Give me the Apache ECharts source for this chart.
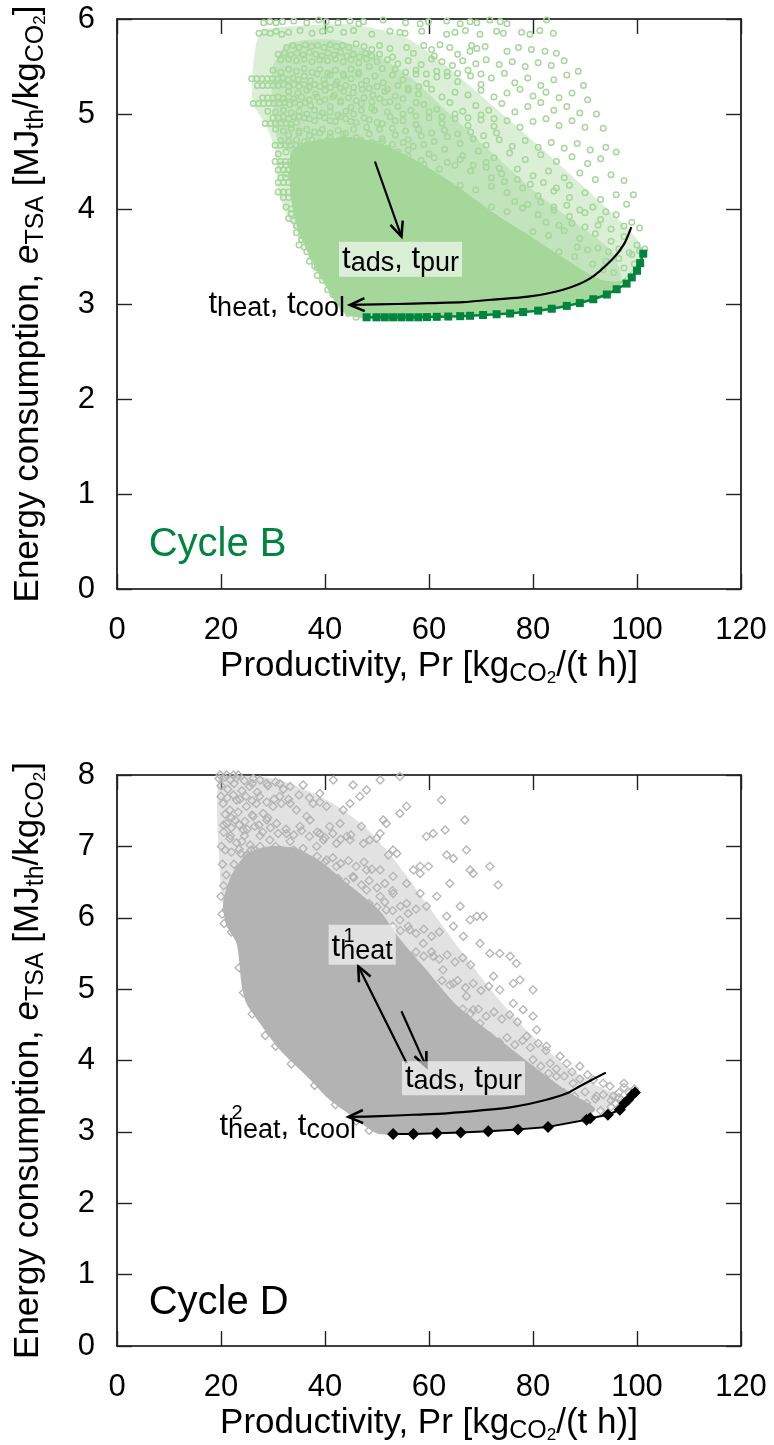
<!DOCTYPE html>
<html><head><meta charset="utf-8">
<script src="https://cdn.jsdelivr.net/npm/echarts/dist/echarts.min.js"></script>
<style>html,body{margin:0;padding:0;background:#fff}#c{width:774px;height:1445px}</style>
</head><body><div id="c"></div>
<script>
// ---------- DATA ----------
const xTicks = [0, 20, 40, 60, 80, 100, 120];
const yTicksB = [0, 1, 2, 3, 4, 5, 6];
const yTicksD = [0, 1, 2, 3, 4, 5, 6, 7, 8];

// Cycle B: Pareto front (dark green squares)
const frontBx = [48.0,49.9,51.5,53.1,54.7,56.3,57.95,59.6,61.5,63.7,66.0,67.9,70.4,73.0,75.6,78.1,81.0,83.6,86.5,89.0,91.6,94.2,96.1,98.0,99.0,100.0,100.6,101.2];
const frontBy = [2.86,2.86,2.86,2.86,2.86,2.86,2.86,2.862,2.865,2.868,2.872,2.876,2.884,2.892,2.90,2.915,2.93,2.95,2.98,3.01,3.05,3.10,3.155,3.215,3.28,3.35,3.43,3.53];

// Cycle B: outline of the region where the cloud points overlap completely
const coreB = [[33.5,4.60],[38.0,4.72],[45.0,4.76],[52.0,4.66],[58.0,4.50],[65.0,4.26],[72.0,3.98],[80.0,3.70],[87.0,3.45],[93.0,3.26],[97.0,3.25],[100.5,3.45],[101.0,3.52],[99.3,3.36],[96.4,3.18],[91.6,3.05],[86.5,2.97],[80.7,2.93],[73.3,2.89],[66.0,2.87],[48.0,2.85],[44.5,2.88],[42.9,2.95],[40.0,3.20],[37.5,3.45],[35.0,3.75],[33.5,4.10]];
// Cycle B: outlines of the partly covered zones (outer, inner)
const haloB1 = [[26.0,5.37],[27.5,5.85],[33.0,5.92],[45.0,5.94],[55.0,5.82],[63.0,5.52],[72.0,5.10],[82.0,4.62],[90.0,4.22],[97.0,3.86],[101.0,3.60],[100.5,3.40],[97.0,3.25],[93.0,3.26],[87.0,3.45],[80.0,3.70],[72.0,3.98],[65.0,4.26],[58.0,4.50],[52.0,4.66],[45.0,4.76],[38.0,4.72],[33.5,4.60],[33.5,4.10],[35.0,3.75],[33.0,3.90],[31.0,4.20],[30.5,4.60],[28.5,4.90],[26.2,5.10]];
const haloB2 = [[30.0,5.50],[33.0,5.74],[42.0,5.78],[50.0,5.62],[57.0,5.36],[64.0,5.00],[72.0,4.60],[80.0,4.20],[88.0,3.86],[95.0,3.56],[97.0,3.25],[93.0,3.26],[87.0,3.45],[80.0,3.70],[72.0,3.98],[65.0,4.26],[58.0,4.50],[52.0,4.66],[45.0,4.76],[38.0,4.72],[33.5,4.60],[31.0,4.70],[30.0,5.10]];

// Cycle B: individual points of the cloud
const cloudB = [
[28.2,5.96],[29.4,5.97],[30.6,5.96],[31.8,5.97],[34.0,5.98],[36.5,5.96],[38.8,5.99],[40.2,5.97],[42.5,5.96],[44.8,5.98],[46.5,5.95],[47.4,5.97],[51.2,5.99],[55.5,5.96],[58.3,5.95],[59.9,5.97],[63.4,5.98],[66.0,5.95],[67.9,5.97],[69.2,5.96],[71.7,5.99],[73.7,5.97],[75.0,5.95],[82.6,5.99],
[27.3,5.85],[28.4,5.86],[29.5,5.85],[30.6,5.87],[31.7,5.84],[33.0,5.86],[35.2,5.88],[37.5,5.85],[39.5,5.87],[41.0,5.89],[43.6,5.86],[45.5,5.88],[49.0,5.84],[52.5,5.87],[54.4,5.86],[55.4,5.85],[58.6,5.87],[63.4,5.84],[65.0,5.86],[67.0,5.88],[69.8,5.84],[73.0,5.87],[74.3,5.85],[77.8,5.86],[79.4,5.84],[81.3,5.88],[83.9,5.85],
[32.6,5.70],[33.8,5.72],[35.0,5.70],[36.2,5.73],[37.4,5.71],[38.6,5.72],[39.8,5.70],[41.0,5.73],[42.2,5.71],[43.4,5.72],[44.6,5.70],[46.0,5.74],[47.5,5.71],[49.0,5.68],[50.5,5.72],[52.5,5.69],[55.7,5.70],[59.0,5.72],[60.5,5.68],[62.1,5.73],[64.0,5.70],[67.9,5.66],[68.2,5.72],[69.2,5.69],[70.8,5.71],[75.0,5.66],[77.2,5.70],[79.7,5.68],[82.3,5.66],[84.5,5.64],
[31.0,5.63],[32.2,5.64],[33.4,5.62],[34.6,5.64],[35.8,5.62],[37.0,5.65],[38.2,5.63],[39.4,5.61],[40.6,5.64],[41.8,5.62],[43.0,5.65],[44.2,5.61],[45.4,5.63],[46.6,5.60],[47.8,5.64],[49.0,5.61],[50.5,5.63],[53.0,5.60],[57.0,5.64],[61.0,5.61],[65.5,5.63],
[31.5,5.57],[33.0,5.58],[34.5,5.56],[36.0,5.58],[37.5,5.55],[39.0,5.57],[40.5,5.56],[42.0,5.58],[43.5,5.55],[45.0,5.57],[46.5,5.54],[48.0,5.58],[50.0,5.55],[52.0,5.57],[54.0,5.53],[56.0,5.56],[58.5,5.52],[60.5,5.58],[62.5,5.55],[64.5,5.51],[66.5,5.56],[69.0,5.53],[71.0,5.57],[73.5,5.52],[76.0,5.55],[78.5,5.50],[81.0,5.54],[83.5,5.51],[86.0,5.56],[88.7,5.45],
[30.0,5.46],[31.5,5.44],[33.0,5.47],[34.5,5.45],[36.0,5.48],[37.5,5.44],[39.0,5.47],[40.5,5.43],[42.0,5.46],[43.5,5.42],[45.0,5.47],[46.5,5.44],
[48.5,5.50],[51.0,5.48],[53.5,5.47],[55.5,5.44],[57.5,5.46],[59.5,5.42],[61.5,5.45],[63.5,5.40],[65.5,5.43],[67.5,5.46],[70.0,5.42],
[25.9,5.37],[26.9,5.37],[27.9,5.37],[28.9,5.37],[29.9,5.37],[30.9,5.37],[31.9,5.38],[32.9,5.36],[33.9,5.38],[34.9,5.36],[36.0,5.40],[37.2,5.35],[38.5,5.42],[39.8,5.36],[41.0,5.41],[42.3,5.34],[43.6,5.40],[45.0,5.37],[46.4,5.42],[48.0,5.35],[49.6,5.40],[51.2,5.33],[53.0,5.41],[55.0,5.36],[57.5,5.42],[59.5,5.32],[61.5,5.39],[63.5,5.44],[65.5,5.34],[68.0,5.40],[70.0,5.31],[72.0,5.38],[74.5,5.43],[76.5,5.33],[79.0,5.38],[81.5,5.30],[84.0,5.36],[86.5,5.41],[89.7,5.30],
[27.0,5.30],[28.0,5.30],[29.0,5.30],[30.0,5.30],[31.0,5.30],[32.0,5.31],[33.0,5.29],[34.0,5.31],[35.0,5.29],[36.0,5.31],[37.0,5.28],[38.0,5.31],[39.0,5.29],[40.0,5.32],[41.0,5.28],[42.0,5.31],[43.0,5.27],[44.0,5.30],[45.5,5.28],[47.0,5.31],[48.5,5.27],[50.0,5.29],[52.0,5.26],[54.0,5.30],[56.0,5.27],[58.0,5.29],
[33.0,5.24],[34.8,5.22],[36.5,5.25],[38.2,5.21],[40.0,5.25],[41.8,5.20],[43.6,5.24],[45.4,5.22],[47.2,5.26],[49.2,5.20],[51.5,5.24],[53.5,5.19],[56.0,5.25],[58.0,5.21],[60.5,5.26],[62.5,5.18],[65.0,5.23],[67.5,5.20],[70.0,5.25],[72.5,5.18],[75.0,5.22],[77.5,5.26],[80.0,5.19],[82.5,5.23],[85.0,5.17],[87.5,5.22],[90.5,5.15],
[28.0,5.17],[29.0,5.17],[30.0,5.17],[31.0,5.18],[32.0,5.16],[33.0,5.18],[34.0,5.16],[35.5,5.18],[37.0,5.15],[38.5,5.18],[40.0,5.15],[41.5,5.18],[43.0,5.14],[44.5,5.17],[46.0,5.14],[47.5,5.17],[49.0,5.13],[50.5,5.16],[52.5,5.13],[55.0,5.16],[57.5,5.12],
[26.2,5.11],[27.2,5.11],[28.2,5.11],[29.2,5.11],[30.2,5.11],[31.2,5.11],[32.2,5.12],[33.2,5.10],[34.2,5.12],[35.2,5.10],[36.2,5.12],[37.2,5.09],[39.0,5.13],[41.0,5.08],[43.0,5.12],[45.0,5.07],[47.0,5.11],[49.0,5.06],[51.5,5.12],[54.0,5.08],[56.5,5.04],[59.0,5.10],[61.5,5.05],[64.0,5.12],[66.5,5.03],[69.0,5.09],[71.5,5.04],[74.0,5.11],[76.5,5.02],[79.0,5.08],[81.5,5.12],[84.0,5.04],[86.5,5.08],[89.0,5.01],[92.2,5.00],
[29.0,5.03],[30.5,5.02],[32.0,5.04],[33.5,5.01],[35.0,5.03],[36.5,5.00],[38.0,5.04],[39.5,5.01],[41.0,5.02],[42.5,4.99],[44.0,5.03],[45.5,5.00],[47.0,5.04],
[49.5,5.04],[52.0,5.02],[55.0,5.00],[57.5,4.98],[60.0,5.02],[62.5,4.97],[65.0,5.00],[67.5,4.96],[70.0,4.99],[72.5,4.95],
[30.0,4.96],[31.0,4.96],[32.0,4.97],[33.0,4.95],[34.0,4.97],[36.0,4.96],[38.0,4.93],[40.0,4.96],[42.0,4.92],[44.0,4.95],[46.0,4.91],[48.5,4.94],[51.0,4.90],[53.5,4.93],
[35.0,4.97],[37.0,4.95],[39.0,4.98],[41.0,4.93],[43.0,4.97],[45.0,4.92],[47.5,4.96],[50.0,4.91],[52.5,4.97],[55.0,4.93],[57.5,4.89],[60.0,4.96],[62.5,4.90],[65.0,4.95],[67.5,4.88],[70.0,4.94],[72.5,4.87],[75.0,4.93],[77.5,4.86],[80.0,4.92],[82.5,4.95],[85.0,4.88],[87.5,4.93],[90.0,4.86],[93.5,4.85],
[28.5,4.90],[29.5,4.90],[30.5,4.90],[31.5,4.90],[32.5,4.90],[33.5,4.89],[34.5,4.91],
[48.0,4.86],[50.5,4.84],[53.0,4.85],[55.5,4.82],[58.0,4.84],[60.5,4.80],[63.0,4.83],[65.5,4.79],[68.0,4.81],[70.5,4.77],[73.0,4.80],
[30.5,4.84],[32.0,4.82],[33.5,4.85],[35.0,4.82],[36.5,4.84],[38.0,4.81],[39.5,4.84],[41.0,4.80],[42.5,4.83],[44.0,4.80],[45.5,4.84],
[33.0,4.78],[35.0,4.80],[37.0,4.77],[39.0,4.80],[41.0,4.76],[43.5,4.79],[46.0,4.75],[48.5,4.79],[51.0,4.74],[53.5,4.78],[56.0,4.73],[58.5,4.77],[61.0,4.71],[63.5,4.76],[66.0,4.69],[68.5,4.74],[71.0,4.67],[73.5,4.73],[76.0,4.66],[78.5,4.72],[81.0,4.65],[83.5,4.70],[86.0,4.64],[88.5,4.69],[91.0,4.62],[94.0,4.65],
[31.5,4.72],[33.0,4.71],[34.5,4.73],[36.0,4.71],[37.5,4.73],[39.0,4.71],[40.5,4.72],[42.0,4.70],[43.5,4.72],[45.0,4.70],[47.0,4.72],[49.0,4.70],[51.0,4.71],[53.0,4.68],[55.0,4.70],[57.0,4.66],[59.0,4.68],
[30.4,4.67],[31.4,4.67],[32.4,4.67],[33.4,4.67],[34.4,4.67],[35.4,4.66],[36.6,4.68],[38.0,4.65],[40.0,4.68],[42.0,4.64],[45.0,4.66],[56.0,4.62],[60.0,4.58],[63.0,4.63],[66.5,4.56],[69.5,4.61],[72.5,4.54],[75.5,4.59],[78.5,4.52],[81.5,4.57],[84.5,4.50],[87.5,4.55],[90.5,4.48],[93.0,4.53],[96.0,4.60],
[31.0,4.58],[32.5,4.60],[34.0,4.57],[35.5,4.59],[37.0,4.56],[38.5,4.60],[40.0,4.57],[41.5,4.60],[43.0,4.56],[44.5,4.59],[46.0,4.62],[48.0,4.66],[50.0,4.68],[52.0,4.64],[54.0,4.60],
[56.0,4.55],[58.5,4.51],[61.0,4.54],[63.5,4.49],[66.0,4.52],[68.5,4.46],[71.0,4.49],[73.5,4.43],
[30.4,4.50],[31.4,4.50],[32.4,4.50],[33.4,4.50],[34.4,4.50],[31.0,4.41],[32.0,4.41],[33.0,4.41],[34.0,4.41],[59.0,4.47],[62.0,4.42],[65.0,4.46],[68.0,4.40],[71.0,4.44],[74.0,4.37],[77.0,4.42],[80.0,4.35],[83.0,4.40],[86.0,4.33],[89.0,4.38],[92.0,4.31],[95.0,4.36],[97.5,4.30],
[31.5,4.46],[32.5,4.46],[33.5,4.46],[31.5,4.33],[32.5,4.33],[33.5,4.33],[32.0,4.12],[33.0,4.12],
[32.5,4.37],[34.0,4.35],[35.5,4.38],
[72.0,4.33],[74.5,4.29],[77.0,4.31],[79.5,4.26],[82.0,4.28],[84.5,4.22],[87.0,4.25],
[31.0,4.28],[32.0,4.28],[33.0,4.28],[34.0,4.28],[31.0,4.18],[32.0,4.18],[33.0,4.18],[66.0,4.25],[69.0,4.20],[72.0,4.24],[75.0,4.17],[78.0,4.22],[81.0,4.14],[84.0,4.19],[87.0,4.12],[90.0,4.17],[93.0,4.10],[96.0,4.15],[99.3,4.15],[98.0,4.05],
[76.5,4.08],[79.0,4.05],[81.5,4.07],[84.0,4.02],[86.5,4.04],[89.0,3.99],[91.5,4.02],[94.0,3.97],
[32.5,4.02],[33.5,4.00],[33.0,3.90],[34.0,3.88],[72.0,4.02],[75.0,3.97],[78.0,4.01],[81.0,3.94],[84.0,3.99],[87.0,3.92],[90.0,3.96],[93.0,3.89],[96.0,3.94],[99.0,3.86],[100.5,3.80],
[82.5,3.86],[85.0,3.83],[87.5,3.85],[90.0,3.81],[92.5,3.83],[95.0,3.79],[97.5,3.82],
[33.5,3.95],[34.5,3.82],[35.5,3.68],[36.5,3.55],[37.5,3.50],[38.5,3.38],[39.5,3.32],
[34.5,3.75],[35.5,3.72],[35.0,3.62],[36.0,3.60],[80.0,3.76],[83.0,3.72],[86.0,3.77],[89.0,3.69],[92.0,3.74],[95.0,3.66],[97.5,3.71],[100.0,3.62],[101.5,3.58],[99.0,3.52],[96.5,3.48],[94.0,3.45],[91.5,3.42],[88.0,3.50],[85.0,3.55],
[88.5,3.60],[90.5,3.57],[92.5,3.59],[94.5,3.55],[96.5,3.58],[98.5,3.54],[100.5,3.56],
[93.5,3.36],[95.5,3.33],[97.5,3.38],[99.5,3.42],
[37.0,3.45],[38.0,3.40],[38.5,3.30],[39.5,3.25],[40.5,3.15],[41.5,3.10],[42.5,3.02],[43.5,2.95],[44.5,2.90],[46.0,2.86]
];

// Cycle D: Pareto front (black diamonds)
const frontDx = [53.1,57.0,61.5,66.1,71.4,77.1,82.9,90.3,91.0,94.4,96.7,97.6,98.3,99.1,99.6];
const frontDy = [2.97,2.97,2.98,2.99,3.01,3.035,3.07,3.17,3.19,3.24,3.31,3.40,3.45,3.52,3.55];

// Cycle D: outline of the region where the cloud points overlap completely
const coreD = [[20.4,6.20],[21.0,5.90],[23.0,5.64],[24.0,5.04],[24.9,4.80],[27.5,4.52],[31.3,4.15],[36.5,3.78],[40.9,3.45],[45.4,3.21],[49.9,2.98],[53.1,2.96],[69.8,3.00],[82.6,3.07],[89.0,3.17],[92.0,3.32],[87.0,3.55],[81.0,3.87],[73.5,4.30],[65.0,4.80],[59.5,5.27],[54.0,5.74],[50.5,6.10],[44.0,6.50],[39.0,6.80],[34.0,6.98],[29.0,7.00],[25.0,6.90],[22.0,6.60]];
// Cycle D: outline of the partly covered zone
const haloD1 = [[19.6,7.98],[24.0,8.00],[30.0,7.95],[36.0,7.80],[42.0,7.58],[48.0,7.25],[54.0,6.75],[60.0,6.15],[66.0,5.55],[72.0,4.98],[78.0,4.48],[85.0,4.00],[91.0,3.70],[96.0,3.50],[94.0,3.30],[92.0,3.32],[87.0,3.55],[81.0,3.87],[73.5,4.30],[65.0,4.80],[59.5,5.27],[54.0,5.74],[50.5,6.10],[44.0,6.50],[39.0,6.80],[34.0,6.98],[29.0,7.00],[25.0,6.90],[22.0,6.60],[20.4,6.20],[19.8,6.60]];

// Cycle D: individual points of the cloud
const cloudD = [
[19.8,8.0],[21.1,8.0],[22.4,8.0],[23.3,8.0],[26.2,7.95],[28.8,7.88],[31.3,7.88],[33.3,7.84],[35.8,7.86],[41.6,7.93],[45.4,7.86],[50.6,7.93],[54.4,7.98],
[19.6,7.95],[20.6,7.97],[21.8,7.93],[23.0,7.96],[24.5,7.92],[26.0,7.88],[27.5,7.93],[29.0,7.85],[30.5,7.90],[32.0,7.80],
[20.4,7.60],[21.7,7.51],[23.0,7.65],[24.9,7.56],[26.8,7.60],[28.1,7.46],[30.0,7.56],[31.3,7.70],[33.3,7.60],[34.5,7.51],[36.5,7.42],[37.7,7.60],[39.0,7.74],[40.3,7.56],[43.5,7.51],[44.8,7.60],[46.7,7.70],[48.0,7.79],[51.2,7.37],[54.4,7.46],[55.7,7.56],[62.4,7.65],
[20.0,7.70],[21.2,7.68],[22.4,7.72],[23.6,7.66],[24.8,7.70],[26.0,7.64],[27.4,7.70],[28.8,7.62],[30.2,7.66],[31.6,7.60],[33.0,7.66],[35.0,7.72],[37.0,7.68],[39.0,7.62],
[21.1,7.32],[22.7,7.37],[24.3,7.23],[26.2,7.42],[28.8,7.37],[30.7,7.32],[32.6,7.18],[35.2,7.28],[37.1,7.37],[39.0,7.18],[40.9,7.28],[42.9,7.32],[44.2,7.14],[47.0,7.28],[48.6,7.09],[50.6,7.18],[51.8,7.32],[53.8,6.90],[59.5,7.14],[60.8,7.18],[63.1,7.23],[66.9,7.37],
[20.5,7.30],[22.0,7.26],[23.5,7.30],[25.0,7.24],[26.5,7.28],[28.0,7.20],[29.5,7.26],[31.0,7.18],[32.5,7.24],[34.0,7.16],[35.5,7.22],[37.0,7.14],[38.5,7.20],[40.0,7.12],[41.5,7.18],[43.0,7.10],[45.0,7.16],
[21.7,7.11],[24.0,7.07],[25.6,7.02],[27.5,7.00],[29.4,7.09],[31.3,6.95],[33.3,7.07],[35.8,6.97],[38.4,7.00],[39.7,7.09],[42.2,7.04],[44.8,7.09],[47.4,7.04],[49.9,7.11],[52.2,6.88],[53.1,6.95],[58.3,6.72],[59.9,6.72],[63.4,6.88],[64.7,6.83],[67.2,6.95],[67.9,6.67],[71.7,6.72],[73.3,6.46],
[22.0,6.92],[23.5,6.96],[25.0,6.88],[26.5,6.94],[28.0,6.86],[29.5,6.92],[31.0,6.84],[32.5,6.90],[34.0,6.82],[35.5,6.88],[37.0,6.80],[38.5,6.86],[40.0,6.78],[41.5,6.84],[43.0,6.76],[44.5,6.80],[46.0,6.72],[47.5,6.78],[49.0,6.68],
[24.9,6.86],[26.8,6.76],[28.8,6.67],[30.7,6.81],[33.3,6.72],[35.2,6.86],[37.7,6.62],[40.3,6.81],[42.2,6.72],[45.4,6.58],[48.0,6.67],[50.6,6.67],[53.1,6.58],[55.7,6.48],[57.0,6.67],[58.3,6.62],[64.0,6.48],[66.0,6.16],[68.5,6.62],[69.2,6.02],[70.4,6.02],
[42.5,6.55],[44.0,6.50],[45.5,6.56],[47.0,6.46],[48.5,6.52],[50.0,6.42],[51.5,6.48],[53.0,6.38],
[48.5,6.20],[50.0,6.15],[51.5,6.22],[53.0,6.10],[54.5,6.16],[56.0,6.06],[57.5,6.12],
[53.0,5.88],[54.5,5.82],[56.0,5.88],[57.5,5.78],[59.0,5.84],[60.5,5.74],[62.0,5.80],
[57.5,5.52],[59.0,5.46],[60.5,5.52],[62.0,5.42],[63.5,5.48],[65.0,5.38],[66.5,5.44],[68.0,5.34],
[62.5,5.12],[64.0,5.06],[65.5,5.12],[67.0,5.02],[68.5,5.08],[70.0,4.98],[71.5,5.04],
[66.5,4.72],[68.0,4.66],[69.5,4.72],[71.0,4.62],[72.5,4.68],[74.0,4.58],[75.5,4.64],[77.0,4.54],
[72.0,4.32],[73.5,4.26],[75.0,4.32],[76.5,4.22],[78.0,4.28],[79.5,4.18],[81.0,4.24],[82.5,4.14],
[78.5,3.92],[80.0,3.86],[81.5,3.92],[83.0,3.82],[84.5,3.88],[86.0,3.78],[87.5,3.84],[89.0,3.74],[90.5,3.80],
[86.0,3.55],[88.0,3.50],[90.0,3.56],[92.0,3.46],[93.5,3.52],[95.0,3.44],[96.5,3.48],
[93.0,3.30],[95.0,3.35],[97.0,3.45],[98.5,3.55],[99.5,3.60],[97.5,3.68],
[48.0,6.39],[50.6,6.30],[53.1,6.34],[55.7,6.20],[58.3,6.34],[59.5,6.16],[61.5,6.30],[63.4,6.02],[64.7,5.88],[66.6,5.74],[67.9,5.97],[69.8,5.64],[71.7,5.50],[73.6,5.50],[75.6,5.46],[76.8,5.36],[77.5,5.13],[80.0,4.99],[76.2,5.08],[72.4,5.18],[73.6,4.99],[76.2,4.80],[78.1,4.71],[80.0,4.62],[80.7,4.43],[78.8,4.34],[82.6,4.20],[85.2,4.06],[86.5,3.96],[89.0,3.92],[83.3,3.96],[80.0,4.01],[91.6,3.73],[93.5,3.68],[94.8,3.64],[95.4,3.50],[87.7,3.68],[84.5,3.78],[79.4,3.87],[76.2,4.06],[73.6,4.20],[71.7,4.34],[69.8,4.52],[68.5,4.71],[67.2,4.90],[64.7,5.08],[62.7,5.27],[60.8,5.46],[58.9,5.64],[56.3,5.83],[54.4,5.97],[51.8,6.11],[90.3,3.40],[92.2,3.50],[83.9,3.59],[78.8,3.64],[74.9,3.73],[69.8,3.96],[66.6,4.15],[64.7,4.43],[62.1,4.62],[59.5,4.85],[57.0,5.08],
[96.5,3.55],[97.5,3.62],[98.3,3.45],[95.8,3.40],
[20.0,7.85],[21.3,7.80],[22.5,7.88],[24.0,7.78],[25.5,7.84],[27.0,7.76],[20.8,7.45],[22.0,7.40],[23.3,7.48],[24.6,7.35],[26.0,7.44],[27.3,7.30],[29.0,7.40],[20.5,7.20],[21.8,7.15],[23.0,7.05],[24.5,7.15],[25.8,6.95],[27.5,7.15],[28.6,6.90],[30.5,7.00],[32.0,6.92],[34.0,6.95],[22.5,6.75],[24.0,6.65],[26.5,6.60],[28.0,6.55],[20.8,6.95],[23.8,6.90],
[20.0,6.30],[20.5,6.45],[21.0,6.60],[20.3,6.75],[20.1,7.00],
[20.2,6.05],[21.0,6.12],[21.6,5.98],[22.4,6.10],[23.2,5.92],[20.6,5.92],[22.0,5.80],
[23.5,5.30],[24.3,4.95],[26.0,4.65],[28.5,4.35],[30.5,4.20],[33.5,3.95],[38.0,3.65],[42.0,3.38],[46.0,3.15],[48.5,3.02]
];

// Annotation arrows (data coordinates)
const arrowB1x = [49.6, 54.7], arrowB1y = [4.50, 3.71];
const arrowB2x = [98.9, 97.5, 95.4, 91.0, 85.8, 79.4, 72.0, 66.6, 60.0, 53.8, 44.8];
const arrowB2y = [3.81, 3.63, 3.48, 3.27, 3.15, 3.08, 3.045, 3.02, 3.01, 3.00, 2.99];
const arrowD1x = [55.7, 46.4], arrowD1y = [3.96, 5.32];
const arrowD2x = [54.7, 59.5], arrowD2y = [4.69, 3.91];
const arrowD3x = [94.0, 89.0, 86.5, 82.6, 76.2, 70.0, 63.4, 57.0, 50.6, 44.5];
const arrowD3y = [3.83, 3.64, 3.54, 3.45, 3.35, 3.30, 3.26, 3.24, 3.22, 3.21];

// Annotation anchors (data coordinates)
const annB_adsPur = [42.6, 3.47], annB_heatCool = [17.5, 2.99], annB_title = [6.0, 0.46];
const annD_heat1 = [40.6, 5.62], annD_adsPur = [54.7, 3.75], annD_heatCool = [19.6, 3.07], annD_title = [6.0, 0.60];

// ---------- STYLE ----------
const F = "'Liberation Sans', Arial, sans-serif";
const GREEN_LIGHT = '#a5d79b', GREEN_DARK = '#00843e', GRAY = '#b3b3b3';

const richAxis = {
  m: {fontSize: 35, lineHeight: 42, fontFamily: F, color: '#000'},
  i: {fontSize: 35, lineHeight: 42, fontFamily: F, fontStyle: 'italic', color: '#000'},
  s: {fontSize: 25, lineHeight: 24, verticalAlign: 'bottom', fontFamily: F, color: '#000'},
  ss: {fontSize: 17, lineHeight: 13, verticalAlign: 'bottom', fontFamily: F, color: '#000'}
};
const richAnn = {
  a: {fontSize: 31, lineHeight: 34, fontFamily: F, color: '#000'},
  b: {fontSize: 27, lineHeight: 22, verticalAlign: 'bottom', fontFamily: F, color: '#000'},
  p: {fontSize: 20, lineHeight: 20, fontFamily: F, color: '#000'},
  g: {fontSize: 40, lineHeight: 44, fontFamily: F, color: GREEN_DARK},
  k: {fontSize: 40, lineHeight: 44, fontFamily: F, color: '#000'}
};

const xName = '{m|Productivity, Pr [kg}{s|CO}{ss|2}{m|/(t h)]}';
const yName = '{m|Energy consumption, }{i|e}{s|TSA}{m| [MJ}{s|th}{m|/kg}{s|CO}{ss|2}{m|]}';

function pairs(xs, ys) { return xs.map((x, i) => [x, ys[i]]); }

function xAxisDef(gi, pos, main) {
  return {
    gridIndex: gi, type: 'value', position: pos,
    min: xTicks[0], max: xTicks[xTicks.length - 1], interval: xTicks[1] - xTicks[0],
    axisLine: {show: true, onZero: false, lineStyle: {color: '#000', width: 1.6}},
    axisTick: {show: true, inside: true, length: 15, lineStyle: {color: '#222', width: 1.4}},
    axisLabel: {show: main, fontSize: 31, color: '#000', fontFamily: F, margin: 26},
    splitLine: {show: false},
    name: main ? xName : '', nameLocation: 'middle', nameGap: 56,
    nameTextStyle: {rich: richAxis}
  };
}
function yAxisDef(gi, pos, main, ticks) {
  return {
    gridIndex: gi, type: 'value', position: pos,
    min: ticks[0], max: ticks[ticks.length - 1], interval: ticks[1] - ticks[0],
    axisLine: {show: true, onZero: false, lineStyle: {color: '#000', width: 1.6}},
    axisTick: {show: true, inside: true, length: 15, lineStyle: {color: '#222', width: 1.4}},
    axisLabel: {show: main, fontSize: 31, color: '#000', fontFamily: F, margin: 22},
    splitLine: {show: false},
    name: main ? yName : '', nameLocation: 'middle', nameGap: 68, nameRotate: 90,
    nameTextStyle: {rich: richAxis}
  };
}

function polySeries(ai, pts, color, opacity, z) {
  return {
    type: 'custom', xAxisIndex: ai, yAxisIndex: ai, silent: true, z: z,
    data: [pts[0]],
    renderItem: (params, api) => ({
      type: 'polygon',
      shape: {points: pts.map(p => api.coord(p)), smooth: 0.25},
      style: {fill: color, opacity: opacity, stroke: null}
    })
  };
}

function arrowSeries(ai, xs, ys) {
  return {
    type: 'custom', xAxisIndex: ai, yAxisIndex: ai, silent: true, z: 6,
    data: [[xs[0], ys[0]]],
    renderItem: (params, api) => {
      const pts = xs.map((x, i) => api.coord([x, ys[i]]));
      const n = pts.length, tip = pts[n - 1], prev = pts[n - 2];
      const ang = Math.atan2(tip[1] - prev[1], tip[0] - prev[0]);
      const L = 16, a = 0.42;
      const w1 = [tip[0] - L * Math.cos(ang - a), tip[1] - L * Math.sin(ang - a)];
      const w2 = [tip[0] - L * Math.cos(ang + a), tip[1] - L * Math.sin(ang + a)];
      return {
        type: 'group',
        children: [
          {type: 'polyline', shape: {points: pts, smooth: n > 2 ? 0.3 : 0}, style: {stroke: '#000', lineWidth: 2.2, fill: null}},
          {type: 'polyline', shape: {points: [w1, tip, w2]}, style: {stroke: '#000', lineWidth: 2.6, fill: null}}
        ]
      };
    }
  };
}

function lbl(pos, text, extra) {
  return {
    value: pos,
    label: Object.assign({show: true, position: 'right', distance: 0, formatter: text, rich: richAnn, color: '#000', opacity: 1}, extra || {})
  };
}

const option = {
  animation: false,
  backgroundColor: '#fff',
  textStyle: {fontFamily: F},
  grid: [
    {left: 117, top: 19, width: 624, height: 570},
    {left: 117, top: 775, width: 624, height: 571}
  ],
  xAxis: [xAxisDef(0, 'bottom', true), xAxisDef(0, 'top', false), xAxisDef(1, 'bottom', true), xAxisDef(1, 'top', false)],
  yAxis: [yAxisDef(0, 'left', true, yTicksB), yAxisDef(0, 'right', false, yTicksB), yAxisDef(1, 'left', true, yTicksD), yAxisDef(1, 'right', false, yTicksD)],
  series: [
    // ---- Cycle B ----
    polySeries(0, haloB1, GREEN_LIGHT, 0.4, 1),
    polySeries(0, haloB2, GREEN_LIGHT, 0.45, 1),
    polySeries(0, coreB, GREEN_LIGHT, 1, 1),
    {type: 'scatter', xAxisIndex: 0, yAxisIndex: 0, silent: true, z: 2, data: cloudB,
      symbol: 'circle', symbolSize: 5.5,
      itemStyle: {color: 'rgba(0,0,0,0)', borderColor: GREEN_LIGHT, borderWidth: 1.5, opacity: 1}},
    {type: 'line', xAxisIndex: 0, yAxisIndex: 0, silent: true, z: 3, data: pairs(frontBx, frontBy),
      symbol: 'rect', symbolSize: 8, showSymbol: true,
      itemStyle: {color: GREEN_DARK, opacity: 1}, lineStyle: {color: GREEN_DARK, width: 2.5}},
    arrowSeries(0, arrowB1x, arrowB1y),
    arrowSeries(0, arrowB2x, arrowB2y),
    {type: 'scatter', xAxisIndex: 0, yAxisIndex: 0, silent: true, z: 10, symbolSize: 1,
      itemStyle: {color: 'rgba(255,255,255,0)', opacity: 1},
      data: [
        lbl(annB_adsPur, '{a|t}{b|ads}{a|, t}{b|pur}', {backgroundColor: 'rgba(255,255,255,0.6)', padding: [1, 3, 0, 3]}),
        lbl(annB_heatCool, '{a|t}{b|heat}{a|, t}{b|cool}'),
        lbl(annB_title, '{g|Cycle B}', {color: GREEN_DARK})
      ]},
    // ---- Cycle D ----
    polySeries(2, haloD1, GRAY, 0.38, 1),
    polySeries(2, coreD, GRAY, 1, 1),
    {type: 'scatter', xAxisIndex: 2, yAxisIndex: 2, silent: true, z: 2, data: cloudD,
      symbol: 'diamond', symbolSize: 8,
      itemStyle: {color: 'rgba(0,0,0,0)', borderColor: GRAY, borderWidth: 1.3, opacity: 1}},
    {type: 'line', xAxisIndex: 2, yAxisIndex: 2, silent: true, z: 3, data: pairs(frontDx, frontDy),
      symbol: 'diamond', symbolSize: 12, showSymbol: true,
      itemStyle: {color: '#000', opacity: 1}, lineStyle: {color: '#000', width: 2}},
    arrowSeries(2, arrowD1x, arrowD1y),
    arrowSeries(2, arrowD2x, arrowD2y),
    arrowSeries(2, arrowD3x, arrowD3y),
    {type: 'scatter', xAxisIndex: 2, yAxisIndex: 2, silent: true, z: 10, symbolSize: 1,
      itemStyle: {color: 'rgba(255,255,255,0)', opacity: 1},
      data: [
        lbl(annD_heat1, '{a|t}{b|heat}', {backgroundColor: 'rgba(255,255,255,0.6)', padding: [6, 3, 0, 3]}),
        lbl(annD_heat1, '{p|1}', {offset: [15, -8]}),
        lbl(annD_adsPur, '{a|t}{b|ads}{a|, t}{b|pur}', {backgroundColor: 'rgba(255,255,255,0.6)', padding: [0, 3, 0, 3]}),
        lbl(annD_heatCool, '{a|t}{b|heat}{a|, t}{b|cool}'),
        lbl(annD_heatCool, '{p|2}', {offset: [12, -13]}),
        lbl(annD_title, '{k|Cycle D}')
      ]}
  ]
};

const chart = echarts.init(document.getElementById('c'), null, {renderer: 'canvas', width: 774, height: 1445});
chart.setOption(option);
</script></body></html>
